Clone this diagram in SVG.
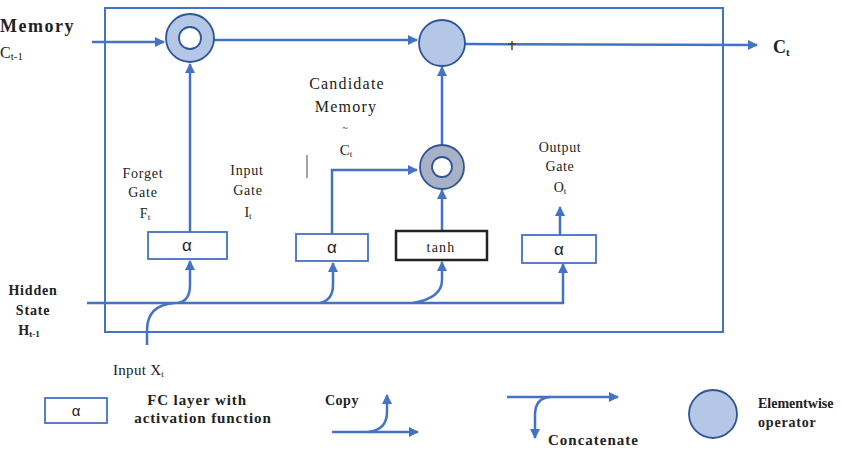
<svg xmlns="http://www.w3.org/2000/svg" width="842" height="453" viewBox="0 0 842 453" font-family="'Liberation Serif','Times New Roman',serif" font-size="15">
<defs>
<marker id="ah" viewBox="0 0 10 10" refX="9" refY="5" markerWidth="4" markerHeight="4" orient="auto" markerUnits="strokeWidth">
<path d="M0,0 L10,5 L0,10 z" fill="#4472c4"/>
</marker>
<style>
.ln{fill:none;stroke:#4472c4;stroke-width:2.5}
.arr{fill:none;stroke:#4472c4;stroke-width:2.5;marker-end:url(#ah)}
.frame{fill:none;stroke:#4472c4;stroke-width:2}
.fc{fill:#fff;stroke:#4472c4;stroke-width:1.8}
.tanh{fill:#fff;stroke:#222;stroke-width:2.5}
.op{fill:#b4c7e7;stroke:#2f5597;stroke-width:1.8}
.opg{fill:#a8b2c6;stroke:#2f5597;stroke-width:1.8}
.hole{fill:#fff;stroke:#2f5597;stroke-width:1.8}
text{fill:#222}
.c{text-anchor:middle}
.b{font-weight:bold}
.al{font-family:'Liberation Sans',Arial,sans-serif}
</style>
</defs>
<rect class="frame" x="105" y="8" width="618" height="324"/>
<g id="connectors">
<line class="arr" x1="92" y1="42" x2="164" y2="42"/>
<line class="arr" x1="214" y1="40" x2="417" y2="40"/>
<line class="arr" x1="465" y1="44" x2="757" y2="45"/>
<line x1="512" y1="41" x2="512" y2="50" stroke="#444" stroke-width="1.5"/>
<line x1="508" y1="44" x2="516" y2="44" stroke="#444" stroke-width="1.5"/>
<line class="arr" x1="190" y1="232" x2="190" y2="64"/>
<polyline class="arr" points="332,234 332,170 417,170"/>
<line class="arr" x1="442" y1="146" x2="442" y2="67"/>
<line class="arr" x1="442" y1="231" x2="442" y2="190"/>
<line class="arr" x1="560" y1="235" x2="560" y2="207"/>
<polyline class="arr" points="87,303 563,303 563,264"/>
<path class="ln" d="M147,345 L147,330 Q147,305 175,303"/>
<path class="arr" d="M178,303 Q190,301 190,285 L190,261"/>
<path class="arr" d="M320,303 Q333,300 333,285 L333,263"/>
<path class="arr" d="M413,303 Q442,298 442,280 L442,262"/>
<line x1="307" y1="155" x2="307" y2="178" stroke="#666" stroke-width="1.2"/>
</g>
<g id="mem-in"><text class="b" x="0" y="32" font-size="18" letter-spacing="1.5">Memory</text><text x="0" y="58" font-size="16">C<tspan font-size="11" dy="2">t-1</tspan></text></g>
<g id="ct-out"><text class="b" x="773" y="53" font-size="18">C<tspan font-size="11" dy="3">t</tspan></text></g>
<g id="forget-mult"><circle class="op" cx="190" cy="38" r="24"/><circle class="hole" cx="190" cy="38" r="11"/></g>
<g id="add"><circle class="op" cx="442" cy="43" r="23"/></g>
<g id="input-mult"><circle class="opg" cx="442" cy="167" r="22"/><circle class="hole" cx="442" cy="167" r="10"/></g>
<g id="cand-label"><text class="c" x="347" y="89" font-size="16" letter-spacing="1.2">Candidate</text><text class="c" x="346" y="112" font-size="16" letter-spacing="1.2">Memory</text><text class="c" x="345" y="131" font-size="10">~</text><text class="c" x="346" y="155">C<tspan font-size="9" dy="2">t</tspan></text></g>
<g id="forget-label"><text class="c" x="143" y="178" font-size="14" letter-spacing="0.8">Forget</text><text class="c" x="143" y="197" font-size="14" letter-spacing="0.8">Gate</text><text class="c" x="145" y="218" font-size="14">F<tspan font-size="9" dy="2">t</tspan></text></g>
<g id="input-label"><text class="c" x="247" y="175" font-size="14" letter-spacing="0.8">Input</text><text class="c" x="248" y="195" font-size="14" letter-spacing="0.8">Gate</text><text class="c" x="248" y="217" font-size="14">I<tspan font-size="9" dy="2">t</tspan></text></g>
<g id="output-label"><text class="c" x="560" y="152" font-size="14" letter-spacing="0.6">Output</text><text class="c" x="560" y="171" font-size="14" letter-spacing="0.6">Gate</text><text class="c" x="560" y="192" font-size="14">O<tspan font-size="9" dy="2">t</tspan></text></g>
<g id="forget-gate"><rect class="fc" x="148" y="232" width="79" height="27"/><text class="c al" x="187" y="251" font-size="17">α</text></g>
<g id="input-gate"><rect class="fc" x="296" y="234" width="72" height="27"/><text class="c al" x="332" y="253" font-size="17">α</text></g>
<g id="tanh-layer"><rect class="tanh" x="396" y="231" width="91" height="29"/><text class="c" x="441" y="252" font-size="14" letter-spacing="1.2">tanh</text></g>
<g id="output-gate"><rect class="fc" x="522" y="235" width="74" height="28"/><text class="c al" x="559" y="255" font-size="17">α</text></g>
<g id="hidden-label"><text class="c b" x="33" y="295" font-size="14" letter-spacing="0.8">Hidden</text><text class="c b" x="33" y="315" font-size="14" letter-spacing="0.8">State</text><text class="c b" x="29" y="335" font-size="14">H<tspan font-size="9" dy="2">t-1</tspan></text></g>
<g id="input-x"><text x="113" y="375" font-size="15" letter-spacing="0.3">Input X<tspan font-size="9" dy="2">t</tspan></text></g>
<g id="legend-fc"><rect class="fc" x="45" y="398" width="62" height="25"/><text class="c al" x="76" y="416" font-size="15">α</text><text class="c b" x="197" y="405" font-size="15" letter-spacing="0.9">FC layer with</text><text class="c b" x="203" y="423" font-size="15" letter-spacing="0.9">activation function</text></g>
<g id="legend-copy"><text class="b" x="325" y="405" font-size="14" letter-spacing="0.5">Copy</text><line class="arr" x1="332" y1="432" x2="418" y2="432"/><path class="arr" d="M368,432 Q387,430 387,412 L387,395"/></g>
<g id="legend-concat"><line class="arr" x1="507" y1="397" x2="618" y2="397"/><path class="arr" d="M550,397 Q535,398 535,415 L535,438"/><text class="b" x="548" y="445" font-size="15" letter-spacing="1">Concatenate</text></g>
<g id="legend-op"><circle class="op" cx="713" cy="414" r="24"/><text class="b" x="758" y="408" font-size="14">Elementwise</text><text class="b" x="758" y="427" font-size="14" letter-spacing="0.8">operator</text></g>
</svg>
